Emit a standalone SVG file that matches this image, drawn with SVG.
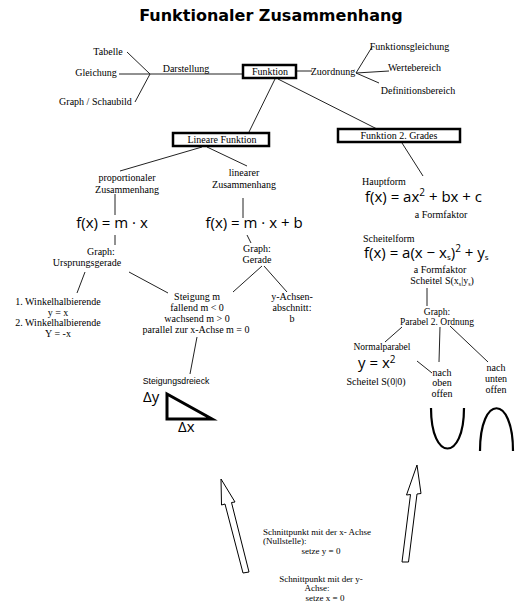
<svg xmlns="http://www.w3.org/2000/svg" width="532" height="616" viewBox="0 0 532 616">
<style>
text{font-family:"Liberation Serif","Times New Roman",serif;font-size:10px;fill:#000}
.m{text-anchor:middle}
.s9{font-size:9px}
.s95{font-size:9.5px}
.f{font-family:"Open Sans","DejaVu Sans",sans-serif;font-size:15px}
.sans{font-family:"Liberation Sans",Arial,sans-serif;font-size:8.7px}
.title{font-family:"DejaVu Sans",Verdana,sans-serif;font-weight:bold;font-size:16px;text-anchor:middle}
.box{fill:#fff;stroke:#000;stroke-width:2.5}
.ln{stroke:#222;stroke-width:1;fill:none}
.thick{stroke:#000;stroke-width:3;fill:none}
.par{stroke:#000;stroke-width:2.2;fill:none}
.arr{fill:#fff;stroke:#000;stroke-width:1;stroke-linejoin:miter}
</style>
<rect width="532" height="616" fill="#fff"/>
<text class="title" x="271" y="21">Funktionaler Zusammenhang</text>

<g id="connectors">
<line class="ln" x1="127" y1="52" x2="150" y2="74"/>
<line class="ln" x1="119" y1="74" x2="150" y2="74"/>
<line class="ln" x1="135" y1="102" x2="150" y2="74"/>
<line class="ln" x1="150" y1="74" x2="243" y2="74"/>
<line class="ln" x1="296" y1="71" x2="312" y2="71"/>
<line class="ln" x1="356" y1="73" x2="372" y2="47"/>
<line class="ln" x1="356" y1="73" x2="389" y2="71"/>
<line class="ln" x1="356" y1="73" x2="379" y2="83"/>
<line class="ln" x1="275" y1="79" x2="249" y2="132"/>
<line class="ln" x1="278" y1="79" x2="377" y2="129"/>
<line class="ln" x1="402" y1="143" x2="423" y2="176"/>
<line class="ln" x1="202" y1="147" x2="120" y2="171"/>
<line class="ln" x1="207" y1="147" x2="247" y2="166"/>
<line class="ln" x1="115" y1="194" x2="115" y2="215"/>
<line class="ln" x1="243" y1="198" x2="243" y2="218"/>
<line class="ln" x1="115" y1="235" x2="115" y2="245"/>
<line class="ln" x1="247" y1="235" x2="251" y2="243"/>
<line class="ln" x1="262" y1="266" x2="233" y2="292"/>
<line class="ln" x1="264" y1="266" x2="287" y2="292"/>
<line class="ln" x1="85" y1="272" x2="77" y2="293"/>
<line class="ln" x1="129" y1="272" x2="168" y2="293"/>
<line class="ln" x1="197" y1="337" x2="190" y2="374"/>
<line class="ln" x1="427" y1="288" x2="427" y2="306"/>
<line class="ln" x1="402" y1="327" x2="385" y2="342"/>
<line class="ln" x1="440" y1="327" x2="439" y2="362"/>
<line class="ln" x1="450" y1="326" x2="488" y2="362"/>
<line class="ln" x1="417" y1="361" x2="432" y2="373"/>
</g>

<g id="darstellung">
<text class="m" x="108" y="54.5">Tabelle</text>
<text class="m" x="96" y="75.5">Gleichung</text>
<text class="m" x="95.5" y="104.5">Graph / Schaubild</text>
<text class="m" x="186" y="71.5">Darstellung</text>
</g>

<g id="funktion">
<rect class="box" x="243" y="65" width="53" height="13"/>
<text class="m" x="270" y="75">Funktion</text>
</g>

<g id="zuordnung">
<text class="m" x="333" y="75">Zuordnung</text>
<text class="m" x="409.5" y="49.5">Funktionsgleichung</text>
<text class="m" x="414.5" y="70.5">Wertebereich</text>
<text class="m" x="418" y="93.5">Definitionsbereich</text>
</g>

<g id="lineare-funktion">
<rect class="box" x="173" y="133" width="96" height="13"/>
<text class="m" x="222" y="143">Lineare Funktion</text>
</g>

<g id="funktion-2-grades">
<rect class="box" x="338" y="129" width="122" height="13"/>
<text class="m" x="399" y="139">Funktion 2. Grades</text>
</g>

<g id="proportional">
<text class="m" x="127" y="180.5">proportionaler</text>
<text class="m" x="127" y="193">Zusammenhang</text>
<text class="f m" x="112" y="228">f(x) = m · x</text>
<text class="m" x="101" y="255">Graph:</text>
<text class="m" x="87" y="266">Ursprungsgerade</text>
</g>

<g id="linear">
<text class="m" x="244" y="176">linearer</text>
<text class="m" x="244" y="188">Zusammenhang</text>
<text class="f m" x="254" y="228">f(x) = m · x + b</text>
<text class="m" x="257" y="252">Graph:</text>
<text class="m" x="257" y="263">Gerade</text>
</g>

<g id="winkelhalbierende">
<text class="m" x="58" y="304.5">1. Winkelhalbierende</text>
<text class="m" x="58" y="315.5">y = x</text>
<text class="m" x="58" y="325.5">2. Winkelhalbierende</text>
<text class="m" x="58" y="336.5">Y = -x</text>
</g>

<g id="steigung">
<text class="m" x="197" y="299.5">Steigung m</text>
<text class="m" x="197" y="310.5">fallend  m &lt; 0</text>
<text class="m" x="197" y="321.5">wachsend  m &gt; 0</text>
<text class="m" x="196" y="333">parallel zur x-Achse  m = 0</text>
</g>

<g id="y-achsenabschnitt">
<text class="m" x="292" y="299.5">y-Achsen-</text>
<text class="m" x="292" y="310.5">abschnitt:</text>
<text class="m" x="292" y="322">b</text>
</g>

<g id="steigungsdreieck">
<text class="sans m" x="176" y="384">Steigungsdreieck</text>
<text class="f" x="143" y="402">Δy</text>
<polygon class="thick" points="167,394 167,419 212,419"/>
<text class="f" x="178" y="432">Δx</text>
</g>

<g id="hauptform">
<text x="362" y="184.5">Hauptform</text>
<text class="f" x="365" y="201.5">f(x) = ax<tspan font-size="10" dy="-6">2</tspan><tspan dy="6"> + bx + c</tspan></text>
<text class="m" x="441" y="217.5">a Formfaktor</text>
</g>

<g id="scheitelform">
<text x="363" y="241.5">Scheitelform</text>
<text class="f" x="364" y="258">f(x) = a(x − x<tspan font-size="8" dy="2">s</tspan><tspan dy="-2">)</tspan><tspan font-size="10" dy="-6">2</tspan><tspan dy="6"> + y</tspan><tspan font-size="8" dy="2">s</tspan></text>
<text class="m" x="440" y="272.5">a Formfaktor</text>
<text class="m" x="442" y="283.5">Scheitel S(x<tspan font-size="6" dy="2">s</tspan><tspan dy="-2">|y</tspan><tspan font-size="6" dy="2">s</tspan><tspan dy="-2">)</tspan></text>
</g>

<g id="parabel">
<text class="m s95" x="437" y="314.5">Graph:</text>
<text class="m s95" x="437" y="324.5">Parabel 2. Ordnung</text>
</g>

<g id="normalparabel">
<text class="m s95" x="382" y="350">Normalparabel</text>
<text class="f" x="358" y="368">y = x<tspan font-size="10" dy="-5">2</tspan></text>
<text class="m" x="376" y="384.5">Scheitel S(0|0)</text>
</g>

<g id="nach-oben-offen">
<text class="m" x="442" y="375.5">nach</text>
<text class="m" x="442" y="386">oben</text>
<text class="m" x="442" y="396.5">offen</text>
<path class="par" d="M431,408 C431,462 464,462 464,408"/>
</g>

<g id="nach-unten-offen">
<text class="m" x="496" y="370.5">nach</text>
<text class="m" x="496" y="381.5">unten</text>
<text class="m" x="496" y="393">offen</text>
<path class="par" d="M480,451 C480,394 513,394 513,451"/>
</g>

<g id="arrows">
<polygon class="arr" points="221,479 235,502 231.5,502.5 249,572 243,573 225,504 221.5,505"/>
<polygon class="arr" points="417,465 421,493.5 417,494 408.5,562 402,562 410.5,494.5 406.5,495"/>
</g>

<g id="schnittpunkte">
<text class="s9" x="263" y="534.5">Schnittpunkt mit der x- Achse</text>
<text class="s9" x="263" y="543.5">(Nullstelle):</text>
<text class="s9 m" x="321" y="553.5">setze y = 0</text>
<text class="s9 m" x="321" y="581.5">Schnittpunkt mit der y-</text>
<text class="s9 m" x="317" y="590.5">Achse:</text>
<text class="s9 m" x="325" y="600.5">setze x = 0</text>
</g>
</svg>
